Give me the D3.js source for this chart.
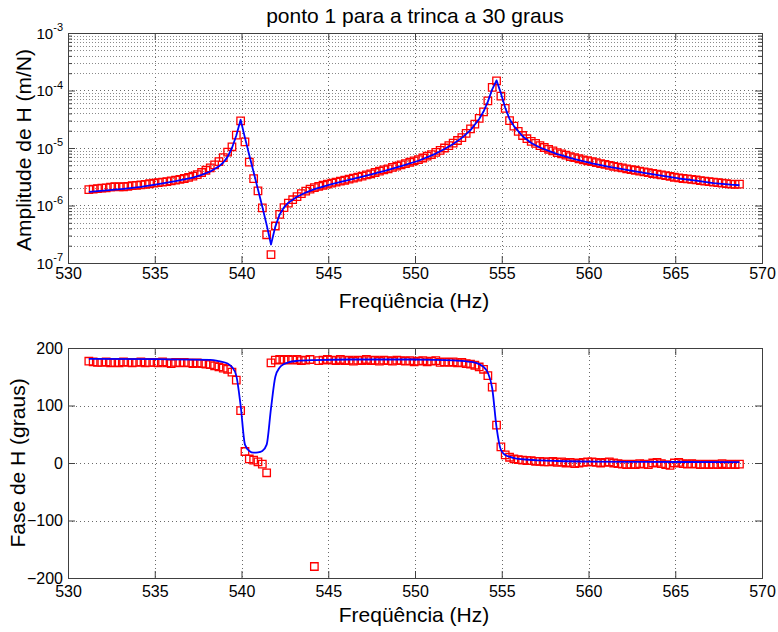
<!DOCTYPE html>
<html><head><meta charset="utf-8">
<script src="https://cdn.jsdelivr.net/npm/d3@7"></script>
<style>body{margin:0;background:#fff}svg{display:block}</style>
</head><body><svg id="c" width="778" height="632"></svg>
<script>
const titleText = "ponto 1 para a trinca a 30 graus";
const xLabelText = "Freqüência (Hz)";
const ampLabelText = "Amplitude de H (m/N)";
const phaseLabelText = "Fase de H (graus)";
const xTicks = [530,535,540,545,550,555,560,565,570];
const ampTickExps = [-3,-4,-5,-6,-7];
const phaseTicks = [200,100,0,-100,-200];

const freq = [
531.2,531.45,531.7,531.95,532.2,532.45,532.7,532.95,
533.2,533.45,533.7,533.95,534.2,534.45,534.7,534.95,
535.2,535.45,535.7,535.95,536.2,536.45,536.7,536.95,
537.2,537.45,537.7,537.95,538.2,538.45,538.7,538.95,
539.2,539.45,539.7,539.95,540.2,540.45,540.7,540.95,
541.2,541.45,541.7,541.95,542.2,542.45,542.7,542.95,
543.2,543.45,543.7,543.95,544.2,544.45,544.7,544.95,
545.2,545.45,545.7,545.95,546.2,546.45,546.7,546.95,
547.2,547.45,547.7,547.95,548.2,548.45,548.7,548.95,
549.2,549.45,549.7,549.95,550.2,550.45,550.7,550.95,
551.2,551.45,551.7,551.95,552.2,552.45,552.7,552.95,
553.2,553.45,553.7,553.95,554.2,554.45,554.7,554.95,
555.2,555.45,555.7,555.95,556.2,556.45,556.7,556.95,
557.2,557.45,557.7,557.95,558.2,558.45,558.7,558.95,
559.2,559.45,559.7,559.95,560.2,560.45,560.7,560.95,
561.2,561.45,561.7,561.95,562.2,562.45,562.7,562.95,
563.2,563.45,563.7,563.95,564.2,564.45,564.7,564.95,
565.2,565.45,565.7,565.95,566.2,566.45,566.7,566.95,
567.2,567.45,567.7,567.95,568.2,568.45,568.7];

const ampMeas = [
1.89e-6,1.92e-6,1.97e-6,2.00e-6,2.02e-6,2.08e-6,2.13e-6,2.10e-6,
2.12e-6,2.15e-6,2.21e-6,2.24e-6,2.29e-6,2.33e-6,2.39e-6,2.44e-6,
2.50e-6,2.55e-6,2.61e-6,2.68e-6,2.76e-6,2.84e-6,2.95e-6,3.08e-6,
3.25e-6,3.45e-6,3.75e-6,4.10e-6,4.50e-6,5.10e-6,5.80e-6,6.80e-6,
8.5e-6,1.05e-5,1.67e-5,2.96e-5,1.28e-5,5.7e-6,2.94e-6,1.79e-6,
9.1e-7,3.1e-7,1.4e-7,4.4e-7,7.0e-7,9.2e-7,1.10e-6,1.26e-6,
1.43e-6,1.61e-6,1.78e-6,1.92e-6,2.05e-6,2.15e-6,2.25e-6,2.35e-6,
2.45e-6,2.55e-6,2.65e-6,2.75e-6,2.88e-6,3.00e-6,3.12e-6,3.25e-6,
3.40e-6,3.55e-6,3.75e-6,3.95e-6,4.15e-6,4.35e-6,4.60e-6,4.85e-6,
5.10e-6,5.35e-6,5.65e-6,5.95e-6,6.30e-6,6.70e-6,7.20e-6,7.70e-6,
8.4e-6,9.1e-6,1.0e-5,1.1e-5,1.22e-5,1.35e-5,1.52e-5,1.80e-5,
2.15e-5,2.6e-5,3.27e-5,4.25e-5,6.6e-5,1.13e-4,1.47e-4,8.0e-5,
4.9e-5,3.0e-5,2.4e-5,1.95e-5,1.65e-5,1.45e-5,1.30e-5,1.20e-5,
1.10e-5,1.02e-5,9.5e-6,8.9e-6,8.3e-6,7.9e-6,7.5e-6,7.1e-6,
6.8e-6,6.5e-6,6.2e-6,6.0e-6,5.8e-6,5.55e-6,5.35e-6,5.2e-6,
5.0e-6,4.8e-6,4.65e-6,4.5e-6,4.35e-6,4.2e-6,4.1e-6,3.95e-6,
3.85e-6,3.72e-6,3.6e-6,3.5e-6,3.4e-6,3.3e-6,3.2e-6,3.1e-6,
3.02e-6,2.95e-6,2.9e-6,2.85e-6,2.78e-6,2.7e-6,2.65e-6,2.6e-6,
2.55e-6,2.5e-6,2.45e-6,2.4e-6,2.36e-6,2.33e-6,2.35e-6];

const phaseMeas = [
177,176,175,175,176,174,175,174,
176,175,174,175,176,174,175,175,
174,176,174,173,175,174,175,174,
173,174,173,172,171,169,167,165,
163,158,144,91,20,7,5,2,
-2,-17,174,179,180,179,180,179,
180,178,179,180,-180,178,179,180,
179,178,180,178,179,177,179,178,
180,178,179,177,179,178,177,179,
178,177,178,176,177,178,176,177,
178,175,176,175,176,174,175,173,
172,170,167,163,152,132,66,28,
14,10,7,6,5,4,4,3,
3,2,2,3,1,2,0,1,
-1,0,1,2,2,1,0,1,
2,0,-1,-2,-3,-2,-3,-1,
-2,-3,0,1,-1,-3,-4,0,
1,-1,-2,-1,-2,-3,-2,-3,
-2,-3,-1,-3,-2,-3,-2];

const fitAmpFreq = [531.2,532.2,533.2,534.2,535.2,536.2,537.2,537.7,538.2,538.7,538.95,539.2,539.45,539.7,539.95,540.2,540.45,540.7,540.95,541.2,541.45,541.7,541.95,542.2,542.45,542.7,543.2,543.7,544.2,545.2,546.2,547.2,548.2,549.2,550.2,551.2,551.7,552.2,552.7,553.2,553.7,553.95,554.2,554.45,554.7,554.95,555.2,555.45,555.7,556.2,556.7,557.2,558.2,559.2,560.2,561.2,562.2,563.2,564.2,565.2,566.2,567.2,568.2,568.7];
const fitAmp = [1.72e-6,1.83e-6,1.95e-6,2.1e-6,2.35e-6,2.65e-6,3.05e-6,3.4e-6,3.9e-6,4.8e-6,5.6e-6,7.0e-6,1.0e-5,1.65e-5,3.1e-5,1.5e-5,7.5e-6,3.8e-6,1.9e-6,9.5e-7,4.6e-7,2.1e-7,4.3e-7,7.0e-7,9.3e-7,1.12e-6,1.42e-6,1.68e-6,1.92e-6,2.35e-6,2.8e-6,3.3e-6,3.95e-6,4.85e-6,6.0e-6,8.0e-6,9.6e-6,1.17e-5,1.5e-5,2.05e-5,3.2e-5,4.3e-5,6.4e-5,1.05e-4,1.5e-4,9.0e-5,5.0e-5,3.2e-5,2.4e-5,1.6e-5,1.22e-5,1.02e-5,7.8e-6,6.4e-6,5.4e-6,4.7e-6,4.15e-6,3.7e-6,3.3e-6,2.95e-6,2.7e-6,2.45e-6,2.3e-6,2.25e-6];

const fitPhaseFreq = [531.2,535.2,538.2,538.7,539.2,539.45,539.7,539.95,540.2,540.45,540.7,540.95,541.2,541.45,541.7,541.95,542.2,542.45,542.7,543.2,544.2,546.2,549.2,551.2,552.2,553.2,553.7,553.95,554.2,554.45,554.7,554.95,555.2,555.45,555.7,556.2,557.2,558.2,560.2,563.2,568.7];
const fitPhase = [181,180.5,179.5,177,173,167,152,100,32,21,18,18.5,21,32,95,150,166,172,175,177.5,179,180,180,179.5,178.5,176,172,167,157,130,62,23,14,11,8.5,6.5,4.5,3.5,2.5,2,1.6];

const FONT = '"Liberation Sans", Arial, Helvetica, sans-serif';
const svg = d3.select("#c");
svg.append("rect").attr("width",778).attr("height",632).attr("fill","#fff");

const L = 68, R = 762;
const x = d3.scaleLinear().domain([530,570]).range([L,R]);
const yA = d3.scaleLog().domain([1e-7,1e-3]).range([263,33]);
const yP = d3.scaleLinear().domain([-200,200]).range([578,348]);

const crisp = v => Math.round(v) + 0.5;
const AX = "#404040";

function styleAxis(g){
  g.attr("font-family", FONT).attr("font-size", 16);
  g.select(".domain").remove();
  g.selectAll(".tick line").attr("stroke", AX);
  g.selectAll(".tick text").attr("fill", "#000");
}

function panel(y, top, bot, yMajor, yMinor, isLog, xPad){
  const g = svg.append("g");
  const grid = g.append("g").attr("fill","none");
  xTicks.slice(1,-1).forEach(v=>{
    grid.append("line").attr("x1",crisp(x(v))).attr("x2",crisp(x(v)))
      .attr("y1",top).attr("y2",bot).attr("stroke","#6a6a6a").attr("stroke-dasharray","1,3");
  });
  yMinor.forEach(v=>{
    grid.append("line").attr("x1",L).attr("x2",R).attr("y1",crisp(y(v))).attr("y2",crisp(y(v)))
      .attr("stroke","#8a8a8a").attr("stroke-dasharray","1,2");
  });
  yMajor.forEach(v=>{
    const py = y(v);
    if (py <= top+1 || py >= bot-1) return;
    grid.append("line").attr("x1",L).attr("x2",R).attr("y1",crisp(py)).attr("y2",crisp(py))
      .attr("stroke","#6a6a6a").attr("stroke-dasharray","1,3");
  });
  const bx = g.append("g").attr("transform",`translate(0,${bot})`)
    .call(d3.axisBottom(x).tickValues(xTicks).tickSize(-7).tickSizeOuter(0).tickPadding(xPad).tickFormat(d3.format("d")));
  styleAxis(bx);
  const tx = g.append("g").attr("transform",`translate(0,${top})`)
    .call(d3.axisTop(x).tickValues(xTicks).tickSize(-7).tickSizeOuter(0).tickFormat(""));
  styleAxis(tx);
  const ly = g.append("g").attr("transform",`translate(${L},0)`)
    .call(d3.axisLeft(y).tickValues(yMajor).tickSize(-7).tickSizeOuter(0).tickPadding(5)
      .tickFormat(isLog ? (d=>String(Math.round(Math.log10(d)))) : d3.format("d")));
  styleAxis(ly);
  const ry = g.append("g").attr("transform",`translate(${R},0)`)
    .call(d3.axisRight(y).tickValues(yMajor).tickSize(-7).tickSizeOuter(0).tickFormat(""));
  styleAxis(ry);
  if (isLog){
    ly.selectAll(".tick text").each(function(d){
      const t = d3.select(this);
      const e = Math.round(Math.log10(d));
      t.text(null).attr("dy","0.33em");
      t.append("tspan").attr("font-size",15).text("10");
      t.append("tspan").attr("dy",-7.5).attr("font-size",11).text(String(e));
    });
    const lm = g.append("g").attr("transform",`translate(${L},0)`)
      .call(d3.axisLeft(y).tickValues(yMinor).tickSize(-4).tickSizeOuter(0).tickFormat(""));
    styleAxis(lm);
    const rm = g.append("g").attr("transform",`translate(${R},0)`)
      .call(d3.axisRight(y).tickValues(yMinor).tickSize(-4).tickSizeOuter(0).tickFormat(""));
    styleAxis(rm);
  }
  return g;
}

const minorVals = [];
ampTickExps.slice(1).forEach(e=>{ for(let k=2;k<=9;k++) minorVals.push(k*Math.pow(10,e)); });

const gA = panel(yA, 33, 263, ampTickExps.map(e=>Math.pow(10,e)), minorVals, true, 5);
const gP = panel(yP, 348, 578, phaseTicks, [], false, 8);

const sq = d3.symbol().type(d3.symbolSquare).size(56);

gA.append("g").selectAll("path").data(freq.map((f,i)=>({f, v:ampMeas[i]}))).join("path")
  .attr("d", sq).attr("transform", d=>`translate(${x(d.f)},${yA(d.v)})`)
  .attr("fill","none").attr("stroke","#ff0000").attr("stroke-width",1.3);
gA.append("path").datum(fitAmpFreq.map((f,i)=>({f, v:fitAmp[i]})))
  .attr("d", d3.line().x(d=>x(d.f)).y(d=>yA(d.v)))
  .attr("fill","none").attr("stroke","#0000ff").attr("stroke-width",1.8).attr("stroke-linejoin","round");

gP.append("g").selectAll("path").data(freq.map((f,i)=>({f, v:phaseMeas[i]}))).join("path")
  .attr("d", sq).attr("transform", d=>`translate(${x(d.f)},${yP(d.v)})`)
  .attr("fill","none").attr("stroke","#ff0000").attr("stroke-width",1.3);
gP.append("path").datum(fitPhaseFreq.map((f,i)=>({f, v:fitPhase[i]})))
  .attr("d", d3.line().curve(d3.curveMonotoneX).x(d=>x(d.f)).y(d=>yP(d.v)))
  .attr("fill","none").attr("stroke","#0000ff").attr("stroke-width",1.8).attr("stroke-linejoin","round");

[[33,263],[348,578]].forEach(([t,b])=>{
  svg.append("rect").attr("x",L+0.5).attr("y",t+0.5).attr("width",R-L).attr("height",b-t)
    .attr("fill","none").attr("stroke",AX).attr("stroke-width",1);
});

const txt = (s, tx, ty, rot) => {
  const t = svg.append("text").attr("font-family",FONT).attr("font-size",21)
    .attr("fill","#000").attr("text-anchor","middle").text(s);
  t.attr("transform", rot ? `translate(${tx},${ty}) rotate(-90)` : `translate(${tx},${ty})`);
};
txt(titleText, 415, 23);
txt(xLabelText, 414, 307.5);
txt(xLabelText, 414, 621.5);
txt(ampLabelText, 31, 150, true);
txt(phaseLabelText, 25, 463, true);
</script>
</body></html>
